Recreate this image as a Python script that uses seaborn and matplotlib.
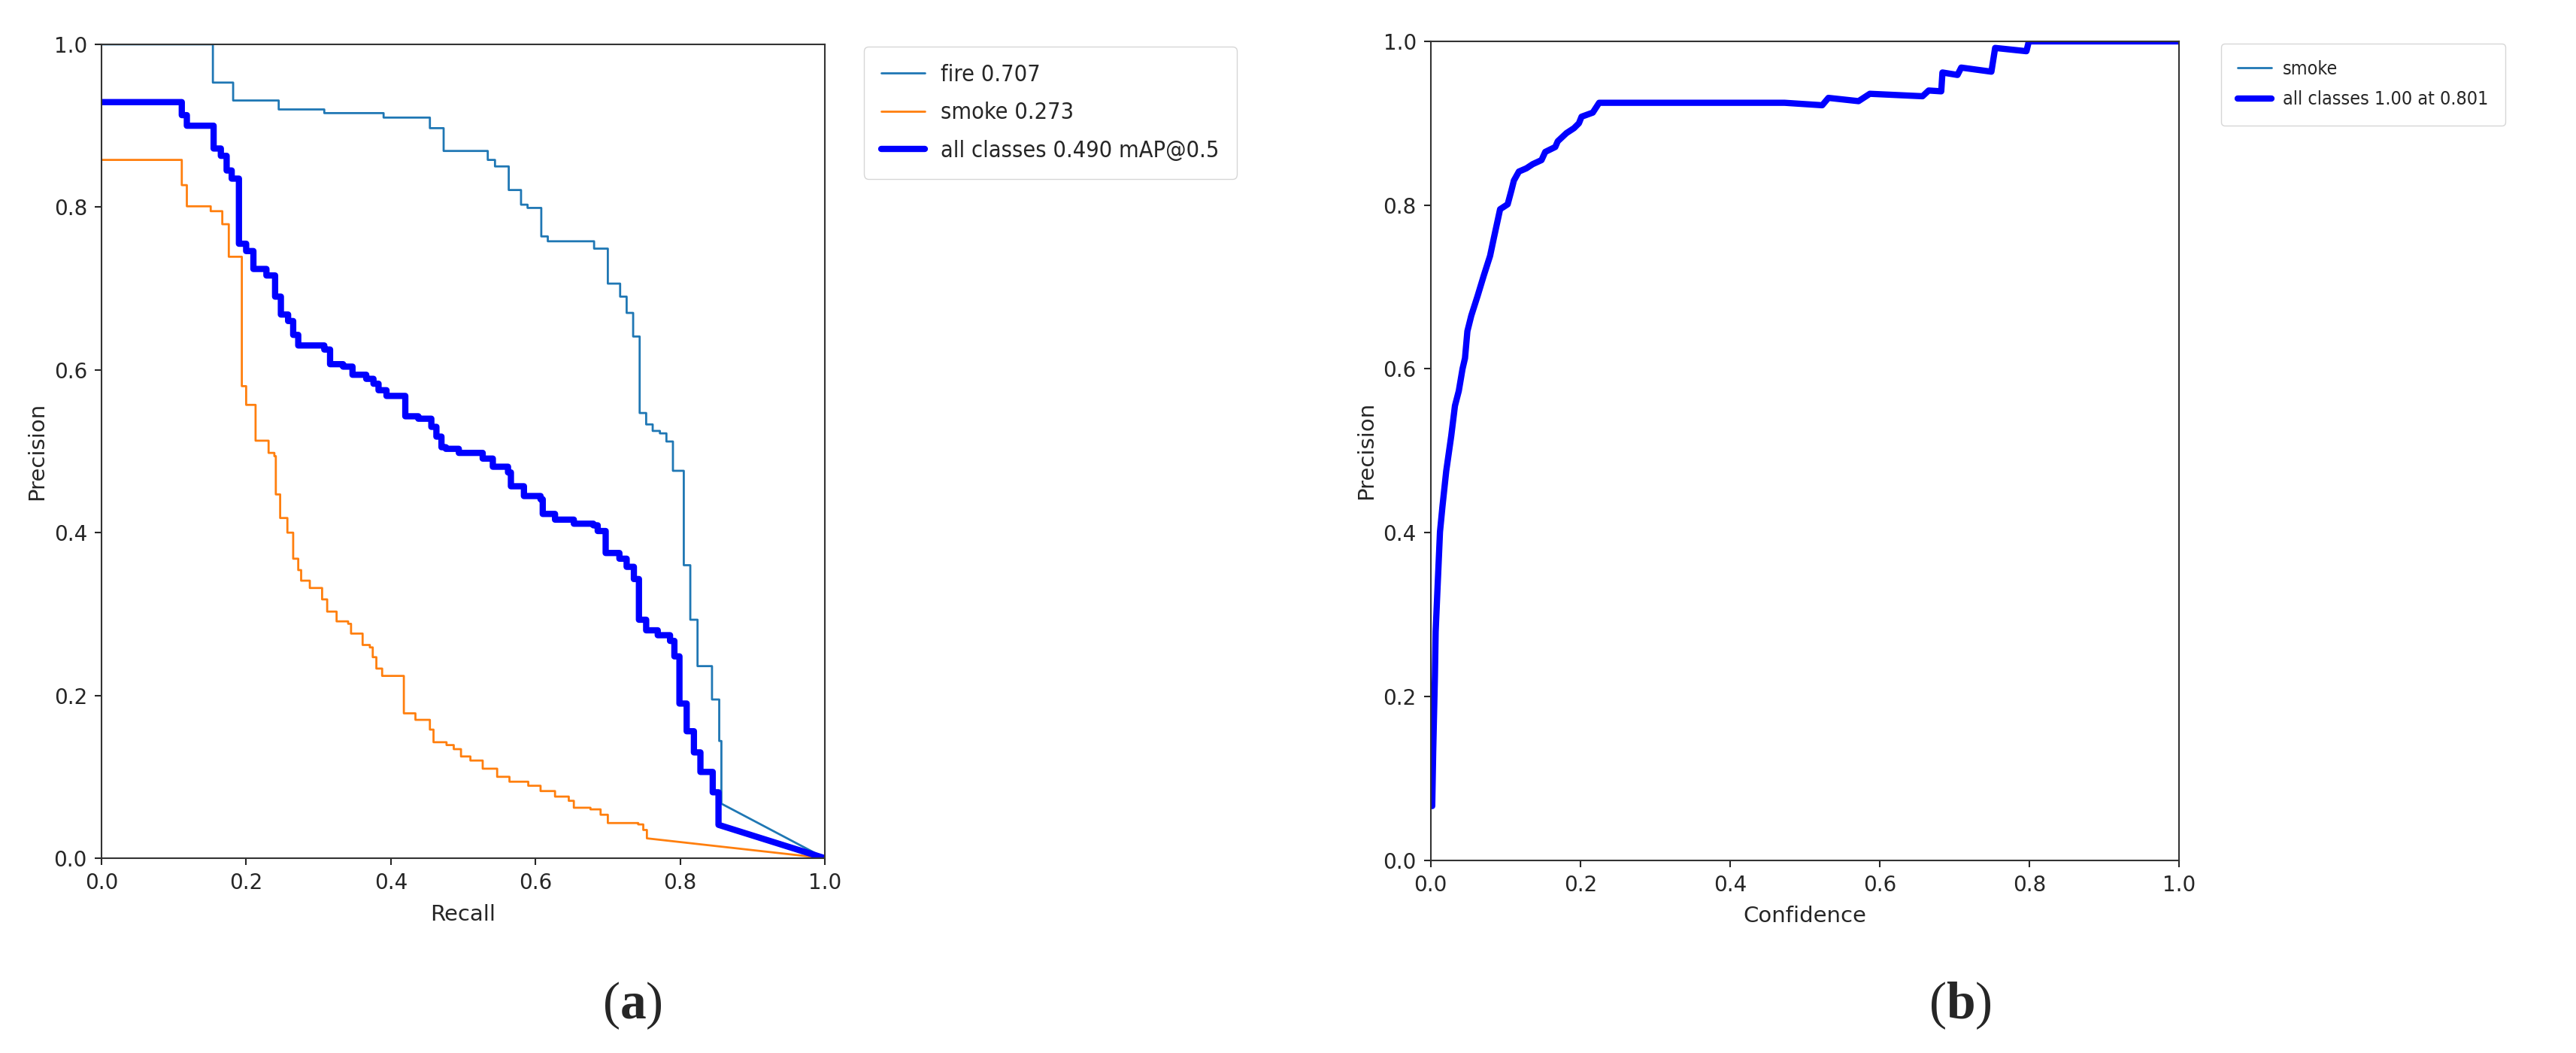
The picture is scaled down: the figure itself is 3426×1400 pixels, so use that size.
import numpy as np
import matplotlib
matplotlib.use("Agg")
import matplotlib.pyplot as plt
from matplotlib.font_manager import FontProperties
import seaborn as sns

# ---- panel (a): precision-recall, stored as (recall where precision drops, new precision)
fire_start = 1.0
fire_r = [0.154, 0.182, 0.245, 0.308, 0.390, 0.454, 0.473, 0.534, 0.544, 0.563,
          0.580, 0.589, 0.608, 0.617, 0.681, 0.700, 0.717, 0.726, 0.735, 0.744,
          0.753, 0.762, 0.772, 0.781, 0.790, 0.805, 0.814, 0.824, 0.844, 0.854, 0.857]
fire_p = [0.953, 0.931, 0.920, 0.9155, 0.910, 0.897, 0.869, 0.858, 0.850, 0.821,
          0.803, 0.799, 0.764, 0.758, 0.749, 0.706, 0.690, 0.670, 0.641, 0.547,
          0.533, 0.525, 0.522, 0.512, 0.476, 0.360, 0.293, 0.236, 0.195, 0.144, 0.067]

smoke_start = 0.858
smoke_r = [0.111, 0.118, 0.151, 0.167, 0.176, 0.194, 0.200, 0.213, 0.231, 0.239,
           0.241, 0.247, 0.257, 0.265, 0.272, 0.276, 0.288, 0.305, 0.312, 0.325,
           0.341, 0.345, 0.361, 0.371, 0.375, 0.380, 0.388, 0.418, 0.434, 0.454,
           0.459, 0.477, 0.487, 0.497, 0.510, 0.527, 0.547, 0.564, 0.590, 0.607,
           0.627, 0.646, 0.653, 0.676, 0.690, 0.700, 0.742, 0.749, 0.754]
smoke_p = [0.827, 0.801, 0.795, 0.779, 0.739, 0.580, 0.557, 0.513, 0.498, 0.494,
           0.447, 0.418, 0.400, 0.368, 0.354, 0.341, 0.332, 0.318, 0.303, 0.291,
           0.288, 0.276, 0.262, 0.259, 0.247, 0.233, 0.224, 0.178, 0.170, 0.158,
           0.1425, 0.139, 0.134, 0.125, 0.120, 0.110, 0.100, 0.094, 0.089, 0.0825,
           0.0757, 0.0705, 0.062, 0.060, 0.0534, 0.0432, 0.0415, 0.0347, 0.0244]

all_start = 0.929
all_r = [0.111, 0.118, 0.155, 0.165, 0.173, 0.180, 0.190, 0.200, 0.210, 0.228,
         0.240, 0.248, 0.258, 0.265, 0.272, 0.308, 0.316, 0.334, 0.347, 0.366,
         0.376, 0.383, 0.394, 0.420, 0.438, 0.456, 0.463, 0.470, 0.476, 0.494,
         0.527, 0.541, 0.562, 0.566, 0.584, 0.607, 0.610, 0.627, 0.653, 0.680,
         0.686, 0.697, 0.716, 0.726, 0.736, 0.743, 0.753, 0.769, 0.786, 0.792,
         0.799, 0.809, 0.819, 0.828, 0.845, 0.853]
all_p = [0.913, 0.900, 0.872, 0.863, 0.845, 0.835, 0.755, 0.746, 0.724, 0.716,
         0.690, 0.668, 0.660, 0.643, 0.630, 0.625, 0.607, 0.604, 0.594, 0.589,
         0.583, 0.575, 0.568, 0.543, 0.540, 0.530, 0.518, 0.505, 0.503, 0.498,
         0.491, 0.481, 0.474, 0.457, 0.445, 0.441, 0.423, 0.416, 0.411, 0.409,
         0.402, 0.375, 0.368, 0.358, 0.343, 0.293, 0.280, 0.274, 0.267, 0.248,
         0.190, 0.156, 0.130, 0.106, 0.081, 0.041]

pr_labels = ["fire 0.707", "smoke 0.273", "all classes 0.490 mAP@0.5"]

# ---- panel (b): precision-confidence
conf = [0.0020, 0.0033, 0.0056, 0.0066, 0.0090, 0.0124, 0.0157, 0.0207, 0.0274, 0.0324,
        0.0375, 0.0425, 0.0458, 0.0490, 0.0542, 0.0626, 0.0709, 0.0793, 0.0844, 0.0927,
        0.1028, 0.1078, 0.1111, 0.1178, 0.1279, 0.1362, 0.1480, 0.1530, 0.1664, 0.1697,
        0.1814, 0.1914, 0.1980, 0.2015, 0.2165, 0.2250, 0.4727, 0.5230, 0.5313, 0.5715,
        0.5866, 0.6570, 0.6652, 0.6820, 0.6836, 0.7037, 0.7087, 0.7490, 0.7540, 0.7958,
        0.7990, 1.0]
prec = [0.066, 0.132, 0.224, 0.279, 0.330, 0.401, 0.432, 0.475, 0.518, 0.555,
        0.573, 0.600, 0.613, 0.646, 0.665, 0.689, 0.714, 0.738, 0.760, 0.795,
        0.801, 0.818, 0.830, 0.841, 0.845, 0.850, 0.855, 0.865, 0.871, 0.878,
        0.888, 0.894, 0.900, 0.908, 0.913, 0.925, 0.925, 0.922, 0.931, 0.927,
        0.936, 0.933, 0.940, 0.939, 0.962, 0.959, 0.968, 0.963, 0.992, 0.988,
        1.000, 1.000]
pc_labels = ["smoke", "all classes 1.00 at 0.801"]


def step_path(start, drop_r, drop_p):
    xs, ys = [0.0], [start]
    prev = start
    for r, p in zip(drop_r, drop_p):
        xs += [r, r]
        ys += [prev, p]
        prev = p
    xs.append(1.0)
    ys.append(0.0)
    return xs, ys


sns.set_style("ticks")
plt.rcParams["font.family"] = ["DejaVu Sans"]
plt.rcParams.update({
    "font.size": 20,
    "axes.linewidth": 1.5,
    "axes.edgecolor": "#333333",
    "xtick.major.size": 6.7, "ytick.major.size": 6.7,
    "xtick.major.width": 1.5, "ytick.major.width": 1.5,
    "xtick.major.pad": 7, "ytick.major.pad": 7,
    "xtick.labelsize": 20, "ytick.labelsize": 20,
    "axes.labelsize": 21,
})

fig = plt.figure(figsize=(34.26, 14), dpi=100)
ax1 = fig.add_axes([0.0394, 0.185, 0.2808, 0.7729])
ax2 = fig.add_axes([0.5554, 0.1832, 0.2906, 0.7775])

colors = ["#1f77b4", "#ff7f0e", "blue"]
widths = [2, 2, 6]
for (start, rr, pp), lab, c, w in zip(
        [(fire_start, fire_r, fire_p), (smoke_start, smoke_r, smoke_p), (all_start, all_r, all_p)],
        pr_labels, colors, widths):
    xs, ys = step_path(start, rr, pp)
    sns.lineplot(x=xs, y=ys, sort=False, estimator=None, ax=ax1,
                 color=c, linewidth=w, label=lab)

sns.lineplot(x=conf, y=prec, sort=False, estimator=None, ax=ax2,
             color="#1f77b4", linewidth=2, label=pc_labels[0])
sns.lineplot(x=conf, y=prec, sort=False, estimator=None, ax=ax2,
             color="blue", linewidth=6, label=pc_labels[1])

for ax, xl in [(ax1, "Recall"), (ax2, "Confidence")]:
    ax.set_xlim(0, 1)
    ax.set_ylim(0, 1)
    ax.set_xlabel(xl, labelpad=10)
    ax.set_ylabel("Precision", labelpad=6)
    ax.set_xticks(np.arange(0, 1.01, 0.2))
    ax.set_yticks(np.arange(0, 1.01, 0.2))

# legends sit outside the axes, text slightly condensed like the stretched source
leg_font1 = FontProperties(family="DejaVu Sans", stretch="condensed", size=22)
ax1.legend(bbox_to_anchor=(1.051, 1.0), loc="upper left", borderaxespad=0.1,
           prop=leg_font1, borderpad=0.75, labelspacing=0.7,
           handlelength=1.9, handletextpad=0.7)
leg_font2 = FontProperties(family="DejaVu Sans", stretch="condensed", size=18)
ax2.legend(bbox_to_anchor=(1.053, 1.0), loc="upper left", borderaxespad=0.1,
           prop=leg_font2, borderpad=0.9, labelspacing=0.65,
           handlelength=1.8, handletextpad=0.6)

plt.rcParams["mathtext.fontset"] = "custom"
plt.rcParams["mathtext.rm"] = "Liberation Serif"
plt.rcParams["mathtext.bf"] = "Liberation Serif:bold"
fig.text(0.2455, 0.045, r"$\mathrm{(}\mathbf{a}\mathrm{)}$", fontsize=50,
         ha="center", va="center")
fig.text(0.761, 0.045, r"$\mathrm{(}\mathbf{b}\mathrm{)}$", fontsize=50,
         ha="center", va="center")

fig.savefig("out.png", dpi=100)
